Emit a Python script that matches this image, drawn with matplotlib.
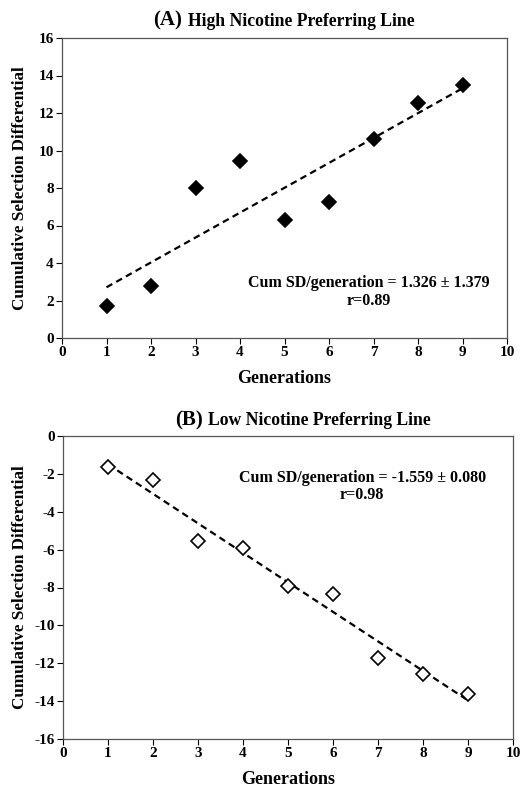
import numpy as np
import matplotlib.pyplot as plt

# Données
generations = [1, 2, 3, 4, 5, 6, 7, 8, 9]
high_csd = [1.7, 2.75, 8.0, 9.45, 6.3, 7.25, 10.6, 12.55, 13.5]
low_csd = [-1.65, -2.3, -5.55, -5.9, -7.9, -8.35, -11.7, -12.55, -13.65]

xticks = list(range(0, 11))
high_yticks = list(range(0, 17, 2))
low_yticks = list(range(-16, 1, 2))

plt.rcParams['font.family'] = ['Liberation Serif', 'DejaVu Serif']
plt.rcParams['font.weight'] = 'bold'
plt.rcParams['axes.unicode_minus'] = False

fig = plt.figure(figsize=(5.28, 7.9), dpi=100)
W, H = 528, 790


def px(x, y):
    # pixels (origine en haut à gauche) -> coordonnées figure
    return x / W, 1 - y / H


def panel(rect, y, yticks, ylim, filled, note, note_xy):
    l, t, r, b = rect
    ax = fig.add_axes([l / W, 1 - b / H, (r - l) / W, (b - t) / H])
    x = np.array(generations, dtype=float)
    yv = np.array(y)
    p = np.polyfit(x, yv, 1)
    ax.plot(x, np.polyval(p, x), ls=(0, (3, 2)), color='black', lw=1.6, zorder=1)
    ax.plot(x, yv, ls='none', marker='D', ms=7,
            mfc='black' if filled else 'white', mec='black', mew=1.2, zorder=2)
    ax.set_xlim(0, 10)
    ax.set_ylim(*ylim)
    ax.set_xticks(xticks)
    ax.set_yticks(yticks)
    ax.tick_params(direction='out', length=4, width=0.8, labelsize=11, pad=2)
    for s in ax.spines.values():
        s.set_color('#555555')
        s.set_linewidth(0.9)
    ax.set_xlabel('Generations', fontsize=13, fontweight='bold', labelpad=8)
    ax.set_ylabel('Cumulative Selection Differential', fontsize=12.3,
                  fontweight='bold')
    ax.yaxis.set_label_coords((28 - l) / (r - l), 0.5)
    ax.text(note_xy[0], note_xy[1], note, ha='center', va='center',
            fontsize=11.5, fontweight='bold', linespacing=1.1)
    return ax


axA = panel((62, 38, 507, 338), high_csd, high_yticks, (0, 16), True,
            'Cum SD/generation = 1.326 \u00b1 1.379\nr=0.89', (6.9, 2.45))
fig.text(*px(153, 20), '(A)', ha='left', va='center', fontsize=15,
         fontweight='bold')
fig.text(*px(188, 21), 'High Nicotine Preferring Line', ha='left',
         va='center', fontsize=12.7, fontweight='bold')

axB = panel((63, 436, 513, 739), low_csd, low_yticks, (-16, 0), False,
            'Cum SD/generation = -1.559 \u00b1 0.080\nr=0.98', (6.65, -2.65))
fig.text(*px(175, 420), '(B)', ha='left', va='center', fontsize=15,
         fontweight='bold')
fig.text(*px(208, 421), 'Low Nicotine Preferring Line', ha='left',
         va='center', fontsize=12.7, fontweight='bold')

fig.savefig('out.png', dpi=100)
